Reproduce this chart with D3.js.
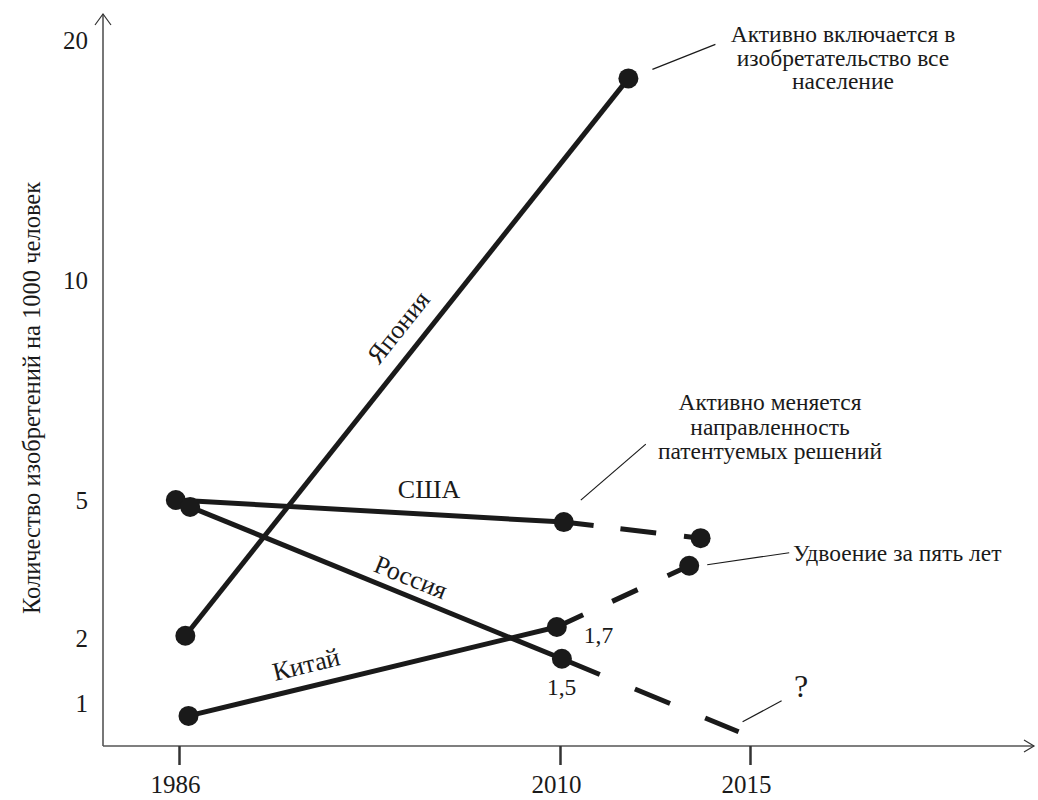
<!DOCTYPE html>
<html>
<head>
<meta charset="utf-8">
<script src="https://cdn.jsdelivr.net/npm/d3@7"></script>
<style>
  body { margin: 0; background: #fff; }
  svg { display: block; }
  text { font-family: "Liberation Serif", "Times New Roman", serif; fill: #1a1a1a; }
</style>
</head>
<body>
<svg id="chart" width="1038" height="800"></svg>
<script>
// tick labels
const xTicks = [1986, 2010, 2015];
const yTicks = [1, 2, 5, 10, 20];

// series (last point of three-point series is a forecast)
const japanYears = [1986.4, 2011.8];
const japanValues = [2.05, 18.4];
const usaYears = [1985.8, 2010.1, 2013.7];
const usaValues = [5.0, 4.52, 4.17];
const russiaYears = [1986.7, 2010.05, 2014.7];
const russiaValues = [4.85, 1.68, 0.33];
const chinaYears = [1986.6, 2009.8, 2013.4];
const chinaValues = [0.7, 2.24, 3.57];

const seriesNames = ['Япония', 'США', 'Россия', 'Китай'];
const yTitle = 'Количество изобретений на 1000 человек';

const series = [
  { name: seriesNames[0], years: japanYears, values: japanValues, markers: [0, 1] },
  { name: seriesNames[1], years: usaYears, values: usaValues, markers: [0, 1, 2], dash: '30,27,36,28,60' },
  { name: seriesNames[2], years: russiaYears, values: russiaValues, markers: [0, 1], dash: '41,38,38,38,60' },
  { name: seriesNames[3], years: chinaYears, values: chinaValues, markers: [0, 1, 2], dash: '29,32,28,33,60' },
];

const svg = d3.select('#chart');
const originX = 103;
const originY = 746;

// the original axes are not to scale, so both scales are piecewise
const x = d3.scaleLinear().domain([1986, 2010, 2015]).range([179, 560, 750]);
const y = d3.scaleLinear().domain([0, 1, 2, 5, 10, 20]).range([originY, 703, 638, 500, 280, 40]);

// axes
const axisColor = '#555';
svg.append('line')
  .attr('x1', originX).attr('y1', originY).attr('x2', originX).attr('y2', 14)
  .attr('stroke', axisColor).attr('stroke-width', 1.6);
svg.append('path')
  .attr('d', `M${originX - 8},25L${originX},14L${originX + 8},25`)
  .attr('fill', 'none').attr('stroke', '#333').attr('stroke-width', 1.2);
svg.append('line')
  .attr('x1', originX).attr('y1', originY).attr('x2', 1034).attr('y2', originY)
  .attr('stroke', axisColor).attr('stroke-width', 1.6);
svg.append('path')
  .attr('d', `M1024,${originY - 6}L1034,${originY}L1024,${originY + 6}`)
  .attr('fill', 'none').attr('stroke', '#333').attr('stroke-width', 1.2);

const xAxis = svg.append('g')
  .attr('transform', `translate(0,${originY})`)
  .call(d3.axisBottom(x).tickValues(xTicks).tickFormat(d3.format('d')).tickSize(19).tickPadding(10).tickSizeOuter(0));
xAxis.select('.domain').remove();
xAxis.selectAll('line').attr('stroke', '#333').attr('stroke-width', 2.5);
xAxis.selectAll('text').attr('font-size', 25).attr('dx', -4)
  .style('font-family', '"Liberation Serif", serif').attr('fill', '#1a1a1a');

const yAxis = svg.append('g')
  .attr('transform', `translate(${originX},0)`)
  .call(d3.axisLeft(y).tickValues(yTicks).tickSize(0).tickPadding(15));
yAxis.select('.domain').remove();
yAxis.selectAll('text').attr('font-size', 25)
  .style('font-family', '"Liberation Serif", serif').attr('fill', '#1a1a1a');

svg.append('text')
  .attr('transform', 'translate(40,398) rotate(-90)')
  .attr('text-anchor', 'middle')
  .attr('font-size', 24.5)
  .text(yTitle);

// lines: solid up to the second point, dashed beyond it
const line = d3.line().x(d => x(d[0])).y(d => y(d[1]));
const lineColor = '#1a1a1a';
const lines = svg.append('g');
series.forEach(s => {
  const pts = s.years.map((yr, i) => [yr, s.values[i]]);
  lines.append('path')
    .attr('d', line(pts.slice(0, 2)))
    .attr('fill', 'none').attr('stroke', lineColor).attr('stroke-width', 5);
  if (pts.length > 2) {
    lines.append('path')
      .attr('d', line(pts.slice(1)))
      .attr('fill', 'none').attr('stroke', lineColor).attr('stroke-width', 5)
      .attr('stroke-dasharray', s.dash);
  }
});

// markers
series.forEach(s => {
  svg.append('g').selectAll('circle')
    .data(s.markers)
    .enter()
    .append('circle')
    .attr('cx', i => x(s.years[i]))
    .attr('cy', i => y(s.values[i]))
    .attr('r', 10)
    .attr('fill', lineColor);
});

// series labels, rotated along their lines
function angleOf(s) {
  const dx = x(s.years[1]) - x(s.years[0]);
  const dy = y(s.values[1]) - y(s.values[0]);
  return Math.atan2(dy, dx) * 180 / Math.PI;
}
const seriesLabels = [
  { s: series[0], cx: 398, cy: 327, rot: true },
  { s: series[1], cx: 429, cy: 489, rot: false },
  { s: series[2], cx: 411, cy: 577, rot: true },
  { s: series[3], cx: 306, cy: 664, rot: true },
];
seriesLabels.forEach(l => {
  const a = l.rot ? angleOf(l.s) : 0;
  svg.append('text')
    .attr('transform', `translate(${l.cx},${l.cy}) rotate(${a})`)
    .attr('text-anchor', 'middle')
    .attr('dy', '0.35em')
    .attr('font-size', 26)
    .text(l.s.name);
});

// annotations
const px = (s, i) => [x(s.years[i]), y(s.values[i])];
function leader(p, d1, d2) {
  svg.append('line')
    .attr('x1', p[0] + d1[0]).attr('y1', p[1] + d1[1])
    .attr('x2', p[0] + d2[0]).attr('y2', p[1] + d2[1])
    .attr('stroke', '#1a1a1a').attr('stroke-width', 1.2);
}
function block(lines, cx, y0, anchor, step, size) {
  const t = svg.append('text').attr('text-anchor', anchor).attr('font-size', size || 23.5);
  lines.forEach((ln, i) => {
    t.append('tspan').attr('x', cx).attr('y', y0 + i * step).text(ln);
  });
}

const jEnd = px(series[0], 1);
leader(jEnd, [24, -9], [87, -34]);
block(['Активно включается в', 'изобретательство все', 'население'], 843, 42, 'middle', 23.5);

const usMid = px(series[1], 1);
leader(usMid, [17, -22], [82, -78]);
block(['Активно меняется', 'направленность', 'патентуемых решений'], 770, 410, 'middle', 24.5);

const cnEnd = px(series[3], 2);
leader(cnEnd, [18, -1], [100, -13]);
block(['Удвоение за пять лет'], 793, 561, 'start', 0);

const ruEnd = px(series[2], 2);
leader(ruEnd, [4, -10], [43, -31]);
block(['?'], 801, 697, 'middle', 0, 32);

const cnMid = px(series[3], 1);
block(['1,7'], cnMid[0] + 27, cnMid[1] + 16, 'start', 0);
const ruMid = px(series[2], 1);
block(['1,5'], ruMid[0] - 15, ruMid[1] + 36, 'start', 0);
</script>
</body>
</html>
